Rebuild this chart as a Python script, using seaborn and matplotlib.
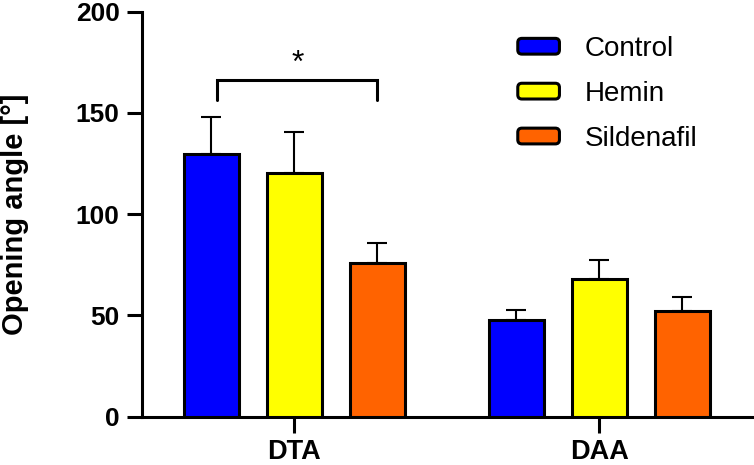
import matplotlib
matplotlib.use("Agg")
import matplotlib.pyplot as plt
import seaborn as sns
import pandas as pd
import numpy as np
from matplotlib.patches import FancyBboxPatch, Patch
from matplotlib.legend_handler import HandlerPatch

# ---- data ----
regions = ["DTA", "DAA"]
groups = ["Control", "Hemin", "Sildenafil"]
means_control = [129.6, 47.7]
means_hemin = [120.2, 67.8]
means_sildenafil = [75.7, 52.3]
sem_control = [18.3, 5.0]
sem_hemin = [20.5, 9.6]
sem_sildenafil = [10.2, 7.0]
colors = ["#0000FF", "#FFFF00", "#FF6300"]
yticks = [0, 50, 100, 150, 200]

sns.set_theme(style="white")
plt.rcParams["font.family"] = ["Liberation Sans", "DejaVu Sans"]
plt.rcParams["text.color"] = "black"
plt.rcParams["axes.labelcolor"] = "black"

rows = []
for g, m, s in zip(groups, [means_control, means_hemin, means_sildenafil],
                   [sem_control, sem_hemin, sem_sildenafil]):
    for r, mv, sv in zip(regions, m, s):
        rows.append({"region": r, "group": g, "mean": mv, "sem": sv})
df = pd.DataFrame(rows)

fig = plt.figure(figsize=(7.54, 4.65), dpi=100)
ax = fig.add_axes([0.188, 0.104, 0.809, 0.871])

sns.barplot(data=df, x="region", y="mean", hue="group", order=regions,
            hue_order=groups, palette=colors, saturation=1, width=0.816,
            gap=0.338, edgecolor="black", linewidth=2.2, errorbar=None,
            ax=ax, legend=False, zorder=3)

# error bars (upper only) from bar geometry
centers = {}
for patch, (g, r) in zip(ax.patches, [(g, r) for g in groups for r in regions]):
    cx = patch.get_x() + patch.get_width() / 2
    centers[(g, r)] = cx
    row = df[(df.group == g) & (df.region == r)].iloc[0]
    ax.errorbar(cx, row["mean"], yerr=[[0], [row["sem"]]], fmt="none",
                ecolor="black", elinewidth=1.5, capsize=7.5, capthick=1.5,
                zorder=2)

# significance bracket
x1 = centers[("Control", "DTA")] + 0.02
x2 = centers[("Sildenafil", "DTA")]
ax.plot([x1, x1, x2, x2], [156.5, 166.3, 166.3, 156.5], color="black",
        lw=2.2, solid_joinstyle="miter", clip_on=False)
ax.text((x1 + x2) / 2, 167.0, "*", ha="center", va="bottom", fontsize=23,
        color="black")

ax.set_ylim(0, 200)
ax.set_xlim(-0.5, 1.5)
ax.set_yticks(yticks)
ax.set_xlabel("")
ax.set_ylabel("Opening angle [°]", fontsize=21, fontweight="bold",
              color="black")
ax.yaxis.set_label_coords(-0.185, 0.5)
for sp in ["top", "right"]:
    ax.spines[sp].set_visible(False)
for sp in ["left", "bottom"]:
    ax.spines[sp].set_linewidth(2.2)
    ax.spines[sp].set_color("black")
ax.tick_params(axis="y", length=11, width=2.2, pad=5, labelsize=19,
               left=True, colors="black")
ax.tick_params(axis="x", length=11.5, width=2.2, pad=4.5, labelsize=19.5,
               bottom=True, colors="black")
for lab in ax.get_yticklabels() + ax.get_xticklabels():
    lab.set_fontweight("bold")


class RoundHandler(HandlerPatch):
    def create_artists(self, legend, orig_handle, xdescent, ydescent,
                       width, height, fontsize, trans):
        p = FancyBboxPatch((-xdescent + 2, -ydescent + 1), width - 4, height - 2,
                           boxstyle="round,pad=0,rounding_size=3",
                           facecolor=orig_handle.get_facecolor(),
                           edgecolor="black", linewidth=2.2, transform=trans)
        return [p]


handles = [Patch(facecolor=c, edgecolor="black") for c in colors]
leg = fig.legend(handles, groups, loc="upper left",
                 bbox_to_anchor=(515 / 754, 1 - 36 / 465), frameon=False,
                 fontsize=20, handlelength=1.7, handleheight=0.65,
                 handletextpad=0.8, labelspacing=0.68, borderpad=0,
                 borderaxespad=0,
                 handler_map={Patch: RoundHandler()})
for t in leg.get_texts():
    t.set_color("black")

fig.savefig("out.png", dpi=100)
